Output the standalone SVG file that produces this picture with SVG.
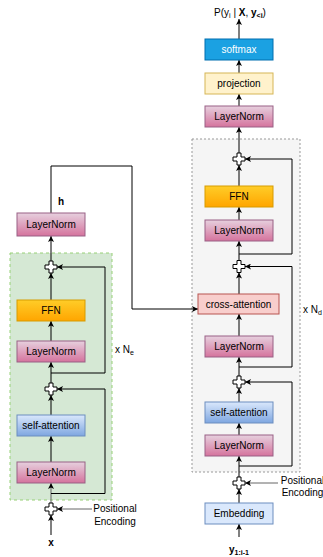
<svg xmlns="http://www.w3.org/2000/svg" width="323" height="557" viewBox="0 0 323 557">
<style>
text{font-family:"Liberation Sans",Arial,sans-serif;font-size:10px;fill:#000}
.c{text-anchor:middle}
.ln{fill:url(#gLN);stroke:#996185}
.ffn{fill:url(#gFFN);stroke:#d79b00}
.sa{fill:url(#gSA);stroke:#6c8ebf}
.e{fill:none;stroke:#000;stroke-width:1;marker-end:url(#arr)}
.g{fill:none;stroke:#666;stroke-width:1;marker-end:url(#arr)}
.n{fill:none;stroke:#000;stroke-width:1}
.plus{fill:#fff;stroke:#000;stroke-width:1}
</style>
<defs>
<linearGradient id="gLN" x1="0" y1="0" x2="0" y2="1"><stop offset="0" stop-color="#e6d0de"/><stop offset="1" stop-color="#d5739d"/></linearGradient>
<linearGradient id="gFFN" x1="0" y1="0" x2="0" y2="1"><stop offset="0" stop-color="#ffcd28"/><stop offset="1" stop-color="#ffa500"/></linearGradient>
<linearGradient id="gSA" x1="0" y1="0" x2="0" y2="1"><stop offset="0" stop-color="#dae8fc"/><stop offset="1" stop-color="#7ea6e0"/></linearGradient>
<marker id="arr" viewBox="0 0 8 8" refX="8" refY="4" markerWidth="6" markerHeight="6" markerUnits="userSpaceOnUse" orient="auto"><path d="M0,0 L8,4 L0,8 L2,4 z" fill="#000"/></marker>
<path id="crs" d="M-2,-6 h4 v4 h4 v4 h-4 v4 h-4 v-4 h-4 v-4 h4 z"/>
</defs>

<g id="encoder-container"><rect x="10" y="253" width="102" height="247" fill="#d5e8d4" stroke="#97d077" stroke-dasharray="3 3"/></g>
<g id="decoder-container"><rect x="192" y="139" width="108" height="333" fill="#f5f5f5" stroke="#999" stroke-dasharray="2 2"/></g>

<g id="connectors">
<path class="e" d="M51,535 V515"/>
<path class="g" d="M92,509 H57"/>
<path class="g" d="M51,503 V483"/>
<path class="e" d="M51,493.5 H105 V389 H57"/>
<path class="e" d="M51,462 V436"/>
<path class="e" d="M51,415 V395"/>
<path class="e" d="M51,383 V362"/>
<path class="e" d="M51,373 H105 V267 H57"/>
<path class="e" d="M51,341 V321"/>
<path class="e" d="M51,300 V273"/>
<path class="e" d="M51,261 V236"/>
<path class="e" d="M51,213 V166 H132 V309 H198"/>

<path class="e" d="M239,537 V524"/>
<path class="e" d="M239,503 V489"/>
<path class="g" d="M278,483 H245"/>
<path class="e" d="M239,477 V456"/>
<path class="e" d="M239,466 H292 V382 H245"/>
<path class="e" d="M239,435 V423"/>
<path class="e" d="M239,402 V388"/>
<path class="e" d="M239,376 V357"/>
<path class="e" d="M239,367 H292 V266.5 H245"/>
<path class="e" d="M239,336 V314"/>
<path class="e" d="M239,294 V272.5"/>
<path class="e" d="M239,260.5 V241"/>
<path class="e" d="M239,254 H292 V159 H245"/>
<path class="e" d="M239,220 V207"/>
<path class="e" d="M239,186 V165"/>
<path class="e" d="M239,153 V127"/>
<path class="e" d="M239,106 V94"/>
<path class="e" d="M239,73 V60"/>
<path class="e" d="M239,39 V19"/>
</g>

<g id="enc-ln-top"><rect class="ln" x="17" y="213" width="68" height="23"/><text class="c" x="51" y="228">LayerNorm</text></g>
<g id="enc-plus-1"><use href="#crs" class="plus" transform="translate(51,267)"/></g>
<g id="enc-ffn"><rect class="ffn" x="17" y="300" width="68" height="21"/><text class="c" x="51" y="314">FFN</text></g>
<g id="enc-ln-2"><rect class="ln" x="17" y="341" width="68" height="21"/><text class="c" x="51" y="355">LayerNorm</text></g>
<g id="enc-plus-2"><use href="#crs" class="plus" transform="translate(51,389)"/></g>
<g id="enc-sa"><rect class="sa" x="17" y="415" width="68" height="21"/><text class="c" x="51" y="429">self-attention</text></g>
<g id="enc-ln-1"><rect class="ln" x="17" y="462" width="68" height="21"/><text class="c" x="51" y="476">LayerNorm</text></g>
<g id="enc-plus-pe"><use href="#crs" class="plus" transform="translate(51,509)"/></g>
<g id="enc-label-h"><text class="c" x="61" y="205" font-weight="bold">h</text></g>
<g id="enc-label-ne"><text x="115" y="353">x N<tspan font-size="7" dy="2">e</tspan></text></g>
<g id="enc-label-pe"><text class="c" x="115" y="512">Positional</text><text class="c" x="115" y="524.5">Encoding</text></g>
<g id="enc-label-x"><text class="c" x="51" y="546" font-weight="bold">x</text></g>

<g id="dec-label-p"><text class="c" x="240" y="16">P(y<tspan font-size="7" dy="2">i</tspan><tspan dy="-2"> | </tspan><tspan font-weight="bold">X</tspan>, <tspan font-weight="bold">y</tspan><tspan font-size="7" font-weight="bold" dy="2">&lt;i</tspan><tspan dy="-2">)</tspan></text></g>
<g id="dec-softmax"><rect x="205" y="39" width="68" height="21" fill="#1ba1e2" stroke="#006eaf"/><text class="c" x="239" y="53" style="fill:#fff">softmax</text></g>
<g id="dec-projection"><rect x="205" y="73" width="68" height="21" fill="#fff2cc" stroke="#d6b656"/><text class="c" x="239" y="87">projection</text></g>
<g id="dec-ln-top"><rect class="ln" x="205" y="106" width="68" height="21"/><text class="c" x="239" y="120">LayerNorm</text></g>
<g id="dec-plus-3"><use href="#crs" class="plus" transform="translate(239,159)"/></g>
<g id="dec-ffn"><rect class="ffn" x="205" y="186" width="68" height="21"/><text class="c" x="239" y="200">FFN</text></g>
<g id="dec-ln-3"><rect class="ln" x="205" y="220" width="68" height="21"/><text class="c" x="239" y="234">LayerNorm</text></g>
<g id="dec-plus-2"><use href="#crs" class="plus" transform="translate(239,266.5)"/></g>
<g id="dec-cross"><rect x="198" y="294" width="81" height="20" fill="#f8cecc" stroke="#b85450"/><text class="c" x="238.5" y="307.5">cross-attention</text></g>
<g id="dec-ln-2"><rect class="ln" x="205" y="336" width="68" height="21"/><text class="c" x="239" y="350">LayerNorm</text></g>
<g id="dec-plus-1"><use href="#crs" class="plus" transform="translate(239,382)"/></g>
<g id="dec-sa"><rect class="sa" x="205" y="402" width="68" height="21"/><text class="c" x="239" y="416">self-attention</text></g>
<g id="dec-ln-1"><rect class="ln" x="205" y="435" width="68" height="21"/><text class="c" x="239" y="449">LayerNorm</text></g>
<g id="dec-plus-pe"><use href="#crs" class="plus" transform="translate(239,483)"/></g>
<g id="dec-embedding"><rect x="205" y="503" width="68" height="21" fill="#dae8fc" stroke="#6c8ebf"/><text class="c" x="239" y="517">Embedding</text></g>
<g id="dec-label-nd"><text x="303" y="313">x N<tspan font-size="7" dy="2">d</tspan></text></g>
<g id="dec-label-pe"><text class="c" x="302.5" y="483.5">Positional</text><text class="c" x="302.5" y="496">Encoding</text></g>
<g id="dec-label-y"><text class="c" x="239" y="553" font-weight="bold">y<tspan font-size="7" dy="2">1:i-1</tspan></text></g>
</svg>
